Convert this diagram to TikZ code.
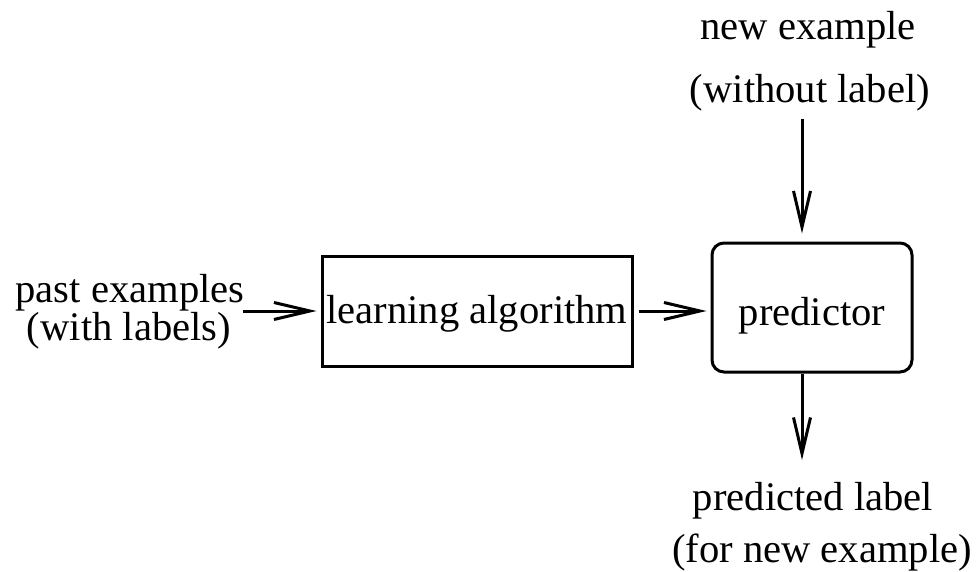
\documentclass[tikz,border=0pt]{standalone}
\usepackage{fontspec}
\setmainfont{Liberation Serif}
\usetikzlibrary{arrows.meta}
\begin{document}
\begin{tikzpicture}[x=1pt,y=-1pt,line width=3pt,
  arr/.style={-{Straight Barb[length=36pt,width=17pt,line width=3pt]}},
  lbl/.style={anchor=base,inner sep=0pt,font=\fontsize{40.6}{48}\selectfont},
  box/.style={draw,inner sep=0pt,font=\fontsize{40.6}{48}\selectfont}]
\useasboundingbox (0,0) rectangle (976,572);
% boxes
\node[box,minimum width=310pt,minimum height=110pt,text height=28pt,text depth=4pt] (learn) at (477,311) {learning algorithm};
\node[box,rounded corners=12pt,minimum width=200pt,minimum height=129pt,text height=36pt,text depth=1pt] (pred) at (812,307.5) {predictor};
% labels
\node[lbl] (past1) at (130,302) {past examples};
\node[lbl] (past2) at (129,340) {(with labels)};
\node[lbl] (new1) at (808,40) {new example};
\node[lbl] (new2) at (810,103) {(without label)};
\node[lbl] (out1) at (813,510) {predicted label};
\node[lbl] (out2) at (822,562) {(for new example)};
% connector end points
\coordinate (pin) at (243,311);
\coordinate (nin) at (802,119);
\coordinate (pout) at (802,460);
% connectors
\draw[arr,shorten >=4pt] (pin) -- (learn.west |- pin);
\draw[arr,shorten <=5pt,shorten >=4pt] (learn.east |- pin) -- (pred.west |- pin);
\draw[arr,shorten >=8pt] (nin) -- (nin |- pred.north);
\draw[arr] (pout |- pred.south) -- (pout);
\end{tikzpicture}
\end{document}
